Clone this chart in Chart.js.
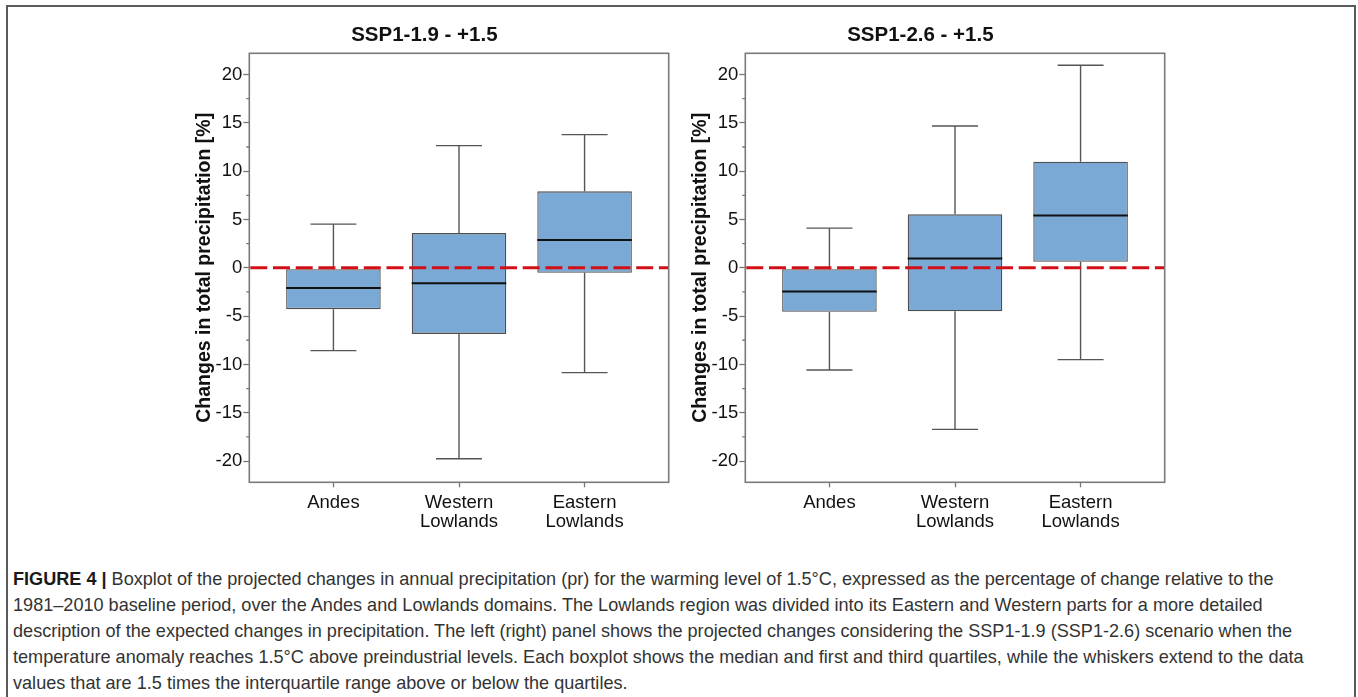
<!DOCTYPE html>
<html><head><meta charset="utf-8">
<script src="https://cdn.jsdelivr.net/npm/chart.js@4.4.1/dist/chart.umd.min.js"></script>
<style>
html,body{margin:0;padding:0;background:#fff;width:1358px;height:697px;overflow:hidden;}
#frame{position:absolute;left:6px;top:5px;width:1346px;height:720px;border:2px solid #5a5a5a;}
canvas{position:absolute;}
#c1{left:180px;top:20px;}
#c2{left:676px;top:20px;}
#cap{position:absolute;left:13px;top:566px;font-family:"Liberation Sans",Arial,sans-serif;font-size:18.1px;line-height:26.1px;color:#333;white-space:nowrap;}
#cap b{color:#1a1a1a;}
</style></head><body>
<div id="frame"></div>
<canvas id="c1" width="500" height="520"></canvas>
<canvas id="c2" width="500" height="520"></canvas>
<div id="cap"><b>FIGURE 4 |</b> Boxplot of the projected changes in annual precipitation (pr) for the warming level of 1.5°C, expressed as the percentage of change relative to the<br>1981–2010 baseline period, over the Andes and Lowlands domains. The Lowlands region was divided into its Eastern and Western parts for a more detailed<br>description of the expected changes in precipitation. The left (right) panel shows the projected changes considering the SSP1-1.9 (SSP1-2.6) scenario when the<br>temperature anomaly reaches 1.5°C above preindustrial levels. Each boxplot shows the median and first and third quartiles, while the whiskers extend to the data<br>values that are 1.5 times the interquartile range above or below the quartiles.</div>
<script>
// ---- data ----
const categories = [["Andes"], ["Western", "Lowlands"], ["Eastern", "Lowlands"]];
const positions = [1, 2, 3];
const yTicks = [20, 15, 10, 5, 0, -5, -10, -15, -20];
const yMinorTicks = [17.5, 12.5, 7.5, 2.5, -2.5, -7.5, -12.5, -17.5];
const titles = ["SSP1-1.9 - +1.5", "SSP1-2.6 - +1.5"];
const yAxisTitle = "Changes in total precipitation [%]";
const referenceLine = 0;

// SSP1-1.9 panel
const ssp119Lower  = [-8.57, -19.76, -10.85];
const ssp119Q1     = [-4.28, -6.84, -0.52];
const ssp119Median = [-2.10, -1.59, 2.87];
const ssp119Q3     = [-0.15, 3.59, 7.91];
const ssp119Upper  = [4.52, 12.64, 13.78];

// SSP1-2.6 panel
const ssp126Lower  = [-10.57, -16.72, -9.50];
const ssp126Q1     = [-4.56, -4.49, 0.62];
const ssp126Median = [-2.45, 0.97, 5.42];
const ssp126Q3     = [-0.14, 5.53, 10.98];
const ssp126Upper  = [4.11, 14.68, 20.97];

// ---- rendering ----
const FONT = "'Liberation Sans', Arial, sans-serif";
Chart.defaults.font.family = FONT;

const boxPlugin = {
  id: 'boxDecor',
  beforeDatasetsDraw(chart, args, opts) {
    const {ctx, scales: {x, y}} = chart;
    const cap = (x.getPixelForValue(2) - x.getPixelForValue(1)) * 0.183;
    ctx.save();
    ctx.strokeStyle = '#555';
    ctx.lineWidth = 1.4;
    opts.positions.forEach((p, i) => {
      const px = x.getPixelForValue(p);
      const yU = y.getPixelForValue(opts.upper[i]);
      const yQ3 = y.getPixelForValue(opts.q3[i]);
      const yQ1 = y.getPixelForValue(opts.q1[i]);
      const yL = y.getPixelForValue(opts.lower[i]);
      ctx.beginPath();
      ctx.moveTo(px, yQ3); ctx.lineTo(px, yU);
      ctx.moveTo(px - cap, yU); ctx.lineTo(px + cap, yU);
      ctx.moveTo(px, yQ1); ctx.lineTo(px, yL);
      ctx.moveTo(px - cap, yL); ctx.lineTo(px + cap, yL);
      ctx.stroke();
    });
    ctx.restore();
  },
  afterDatasetsDraw(chart, args, opts) {
    const {ctx, chartArea: a, scales: {x, y}} = chart;
    ctx.save();
    // medians
    const meta = chart.getDatasetMeta(0);
    ctx.strokeStyle = '#111';
    ctx.lineWidth = 2;
    meta.data.forEach((bar, i) => {
      const {x: bx, width: bw} = bar.getProps(['x', 'width'], true);
      const ym = y.getPixelForValue(opts.median[i]);
      ctx.beginPath();
      ctx.moveTo(bx - bw / 2, ym); ctx.lineTo(bx + bw / 2, ym);
      ctx.stroke();
    });
    // reference dashed line
    ctx.beginPath();
    ctx.rect(a.left, a.top, a.right - a.left, a.bottom - a.top);
    ctx.clip();
    const yr = y.getPixelForValue(opts.ref);
    ctx.setLineDash([17, 5.7]);
    ctx.strokeStyle = '#d20f16';
    ctx.lineWidth = 3;
    ctx.beginPath();
    ctx.moveTo(a.left + 1, yr); ctx.lineTo(a.right, yr);
    ctx.stroke();
    ctx.restore();
    // minor ticks and frame
    ctx.save();
    ctx.strokeStyle = '#777';
    ctx.lineWidth = 1.3;
    ctx.beginPath();
    opts.minor.forEach(v => {
      const yy = y.getPixelForValue(v);
      ctx.moveTo(a.left - 3, yy); ctx.lineTo(a.left, yy);
    });
    ctx.stroke();
    ctx.strokeStyle = '#7a7a7a';
    ctx.lineWidth = 1.6;
    ctx.strokeRect(a.left, a.top, a.right - a.left, a.bottom - a.top);
    ctx.restore();
  }
};

function makeChart(id, title, lower, q1, median, q3, upper) {
  return new Chart(document.getElementById(id), {
    type: 'bar',
    data: {
      datasets: [{
        data: positions.map((p, i) => ({x: p, y: [q1[i], q3[i]]})),
        backgroundColor: '#7aa9d6',
        borderColor: '#4f4f4f',
        borderWidth: 1.3,
        borderSkipped: false,
        barPercentage: 0.753,
        categoryPercentage: 1
      }]
    },
    options: {
      responsive: false,
      animation: false,
      devicePixelRatio: 1,
      layout: {padding: {left: 0, right: 11.3, top: 0, bottom: 0}},
      plugins: {
        legend: {display: false},
        tooltip: {enabled: false},
        title: {
          display: true, text: title, color: '#111',
          font: {family: FONT, size: 20.5, weight: 'bold', lineHeight: 1.2},
          padding: {top: 3.2, bottom: 5.5}
        },
        boxDecor: {positions, lower, q1, median, q3, upper, ref: referenceLine, minor: yMinorTicks}
      },
      scales: {
        x: {
          type: 'linear', min: 0.33, max: 3.67, offset: false,
          afterBuildTicks(s) { s.ticks = positions.map(v => ({value: v})); },
          ticks: {
            callback: (v, i) => categories[i],
            color: '#111', font: {size: 18.5, lineHeight: 1.03},
            padding: 6.5, maxRotation: 0, autoSkip: false
          },
          grid: {offset: false, drawOnChartArea: false, drawTicks: true, tickLength: 5, tickColor: '#777', tickWidth: 1.3},
          border: {display: false},
          afterFit(s) { s.height = 57.7; }
        },
        y: {
          type: 'linear', min: -22.2, max: 22.2,
          afterBuildTicks(s) { s.ticks = yTicks.map(v => ({value: v})); },
          ticks: {
            callback: v => String(v),
            color: '#111', font: {size: 18.5},
            padding: 1
          },
          grid: {drawOnChartArea: false, drawTicks: true, tickLength: 6, tickColor: '#777', tickWidth: 1.3},
          border: {display: false},
          title: {
            display: true, text: yAxisTitle, color: '#111',
            font: {size: 19.5, weight: 'bold', lineHeight: 1.2},
            padding: {top: 13, bottom: 0}
          },
          afterFit(s) { s.width = 69.3; }
        }
      }
    },
    plugins: [boxPlugin]
  });
}

makeChart('c1', titles[0], ssp119Lower, ssp119Q1, ssp119Median, ssp119Q3, ssp119Upper);
makeChart('c2', titles[1], ssp126Lower, ssp126Q1, ssp126Median, ssp126Q3, ssp126Upper);
</script>
</body></html>
